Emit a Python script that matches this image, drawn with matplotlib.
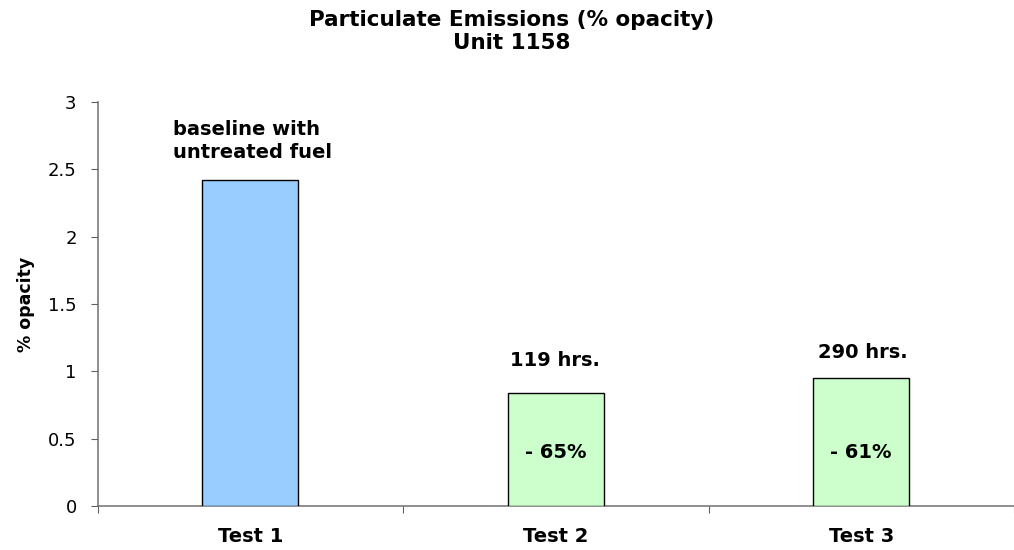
import matplotlib
matplotlib.use("Agg")
import matplotlib.pyplot as plt

categories = ["Test 1", "Test 2", "Test 3"]
values = [2.42, 0.84, 0.95]
bar_colors = ["#99CCFF", "#CCFFCC", "#CCFFCC"]
top_labels = ["baseline with\nuntreated fuel", "119 hrs.", "290 hrs."]
top_label_y = [2.71, 1.08, 1.143]
top_label_dx = [0.007, -0.002, 0.004]
inner_labels = [None, "- 65%", "- 61%"]
inner_label_y = 0.397
yticks = [0, 0.5, 1, 1.5, 2, 2.5, 3]
ytick_labels = ["0", "0.5", "1", "1.5", "2", "2.5", "3"]
title_lines = ["Particulate Emissions (% opacity)", "Unit 1158"]

plt.rcParams['font.family'] = ['DejaVu Sans']

fig = plt.figure(figsize=(10.14, 5.5), dpi=100)
ax = fig.add_axes([97.5 / 1014, 44 / 550, (1014 - 97.5) / 1014, (506 - 102) / 550])

x = list(range(len(categories)))
ax.bar(x, values, width=0.313, color=bar_colors, edgecolor="black", linewidth=1.0, zorder=3)

ax.set_ylim(0, 3)
ax.set_xlim(-0.5, -0.5 + (1014 - 97.5) / 307)
ax.set_yticks(yticks)
ax.set_yticklabels(ytick_labels, fontsize=13)
ax.set_xticks([-0.5, 0.5, 1.5, 2.5])
ax.set_xticklabels([])
ax.set_xticks(x, minor=True)
ax.set_xticklabels(categories, minor=True, fontsize=14, fontweight="bold")
ax.tick_params(axis="x", which="minor", length=0, pad=15)
ax.tick_params(axis="x", which="major", length=5, color="#606060")
ax.tick_params(axis="y", length=5, color="#606060", pad=10)

for s in ["top", "right"]:
    ax.spines[s].set_visible(False)
for s in ["left", "bottom"]:
    ax.spines[s].set_color("#707070")
    ax.spines[s].set_linewidth(1.1)

ax.set_ylabel("% opacity", fontsize=12.5, fontweight="bold", labelpad=9)

for i, (lab, yy, dx) in enumerate(zip(top_labels, top_label_y, top_label_dx)):
    ax.text(i + dx, yy, lab, ha="center", va="center", multialignment="left",
            fontsize=14, fontweight="bold", linespacing=1.3)
for i, lab in enumerate(inner_labels):
    if lab:
        ax.text(i, inner_label_y, lab, ha="center", va="center", fontsize=14, fontweight="bold", zorder=4)

for line, base in zip(title_lines, [26, 49]):
    fig.text(0.505, 1 - base / 550, line, ha="center", va="baseline",
             fontsize=15.5, fontweight="bold")

fig.savefig("out.png", dpi=100)
